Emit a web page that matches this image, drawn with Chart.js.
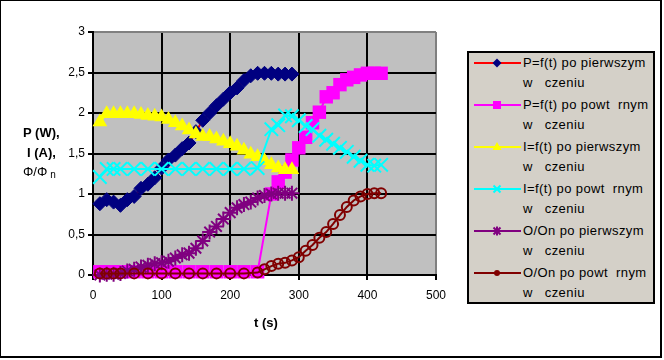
<!DOCTYPE html>
<html lang="pl">
<head>
<meta charset="UTF-8">
<title>Wykres P, I, O/On</title>
<script src="https://cdn.jsdelivr.net/npm/chart.js"></script>
<style>
  body { margin: 0; background: #fff; font-family: "Liberation Sans", Arial, sans-serif; }
  #ramka { position: absolute; left: 0; top: 0; width: 659px; height: 355px; border: 1px solid #000; border-right-width: 2px; border-bottom-width: 2px; }
  #wykres { position: absolute; left: 0; top: 0; width: 454px; height: 340px; }
  .opis { position: absolute; font-size: 13px; line-height: 16px; color: #000; white-space: nowrap; }
  .gruby { font-weight: bold; }
  #legenda { position: absolute; left: 467px; top: 51px; width: 184px; height: 249px; border: 2px solid #000; background: #d4d0c8; }
  .wpis { position: relative; height: 42px; }
  .wpis svg { position: absolute; left: 5px; top: 0; }
  .wpis div { position: absolute; left: 54px; top: 0; font-size: 13px; line-height: 20px; letter-spacing: 0.4px; white-space: nowrap; }
</style>
</head>
<body>
<div id="ramka"></div>
<div id="wykres"><canvas id="myChart"></canvas></div>

<div class="opis gruby" style="left:23px; top:125px">P (W),</div>
<div class="opis gruby" style="left:27px; top:145px">I (A),</div>
<div class="opis" style="left:23px; top:164px">&Phi;/&Phi;<span style="font-size:10px; position:relative; top:2px"> n</span></div>
<div class="opis gruby" style="left:236px; top:315px; width:60px; text-align:center">t (s)</div>

<div id="legenda"></div>

<script>
  // czas i wartosci - po pierwszym wlaczeniu
  const tPierw = [10, 20, 30, 40, 50, 60, 70, 80, 90, 100, 110, 120, 130, 140, 150,
    160, 170, 180, 190, 200, 210, 220, 230, 240, 250, 260, 270, 280, 290];
  const pPierw = [0.88, 0.93, 0.90, 0.86, 0.93, 0.97, 1.07, 1.12, 1.20, 1.32, 1.42, 1.48, 1.56, 1.63, 1.77,
    1.91, 2.00, 2.09, 2.17, 2.25, 2.31, 2.40, 2.46, 2.49, 2.49, 2.49, 2.48, 2.48, 2.48];
  const iPierw = [1.89, 1.99, 1.99, 1.99, 1.99, 1.99, 1.98, 1.97, 1.96, 1.95, 1.92, 1.88, 1.84, 1.79, 1.74,
    1.71, 1.71, 1.68, 1.65, 1.62, 1.59, 1.54, 1.49, 1.46, 1.41, 1.36, 1.32, 1.30, 1.30];
  const oPierw = [0.00, 0.01, 0.01, 0.02, 0.05, 0.07, 0.10, 0.12, 0.14, 0.15, 0.17, 0.21, 0.25, 0.27, 0.33,
    0.42, 0.53, 0.60, 0.69, 0.77, 0.83, 0.87, 0.90, 0.95, 0.98, 1.00, 1.01, 1.01, 1.01];

  // czas i wartosci - po powtornym wlaczeniu
  const tPowt = [10, 20, 30, 40, 60, 80, 100, 120, 140, 160, 180, 200, 220, 240,
    250, 260, 270, 280, 290, 300, 310, 320, 330, 340, 350, 360, 370, 380, 390, 400, 410, 420];
  const pPowt = [0.04, 0.04, 0.04, 0.04, 0.04, 0.04, 0.04, 0.04, 0.04, 0.04, 0.04, 0.04, 0.04, 0.04,
    null, 1.00, 1.15, 1.27, 1.42, 1.57, 1.70, 1.88, 2.01, 2.20, 2.25, 2.35, 2.41, 2.44, 2.47, 2.49, 2.49, 2.49];
  const iPowt = [1.21, 1.31, 1.31, 1.31, 1.31, 1.31, 1.31, 1.31, 1.31, 1.31, 1.31, 1.31, 1.31, 1.32,
    null, 1.80, 1.85, 1.97, 1.96, 1.91, 1.84, 1.80, 1.72, 1.67, 1.62, 1.57, 1.52, 1.46, 1.41, 1.36, 1.35, 1.36];
  const oPowt = [0.02, 0.02, 0.02, 0.02, 0.02, 0.02, 0.02, 0.02, 0.02, 0.02, 0.02, 0.02, 0.02, 0.03,
    0.07, 0.11, 0.14, 0.15, 0.18, 0.22, 0.30, 0.37, 0.46, 0.53, 0.63, 0.74, 0.84, 0.92, 0.97, 1.00, 1.01, 1.01];

  const nazwy = [
    ['P=f(t) po pierwszym', 'w\u00a0\u00a0\u00a0czeniu'],
    ['P=f(t) po powt\u00a0\u00a0rnym', 'w\u00a0\u00a0\u00a0czeniu'],
    ['I=f(t) po pierwszym', 'w\u00a0\u00a0\u00a0czeniu'],
    ['I=f(t) po powt\u00a0\u00a0rnym', 'w\u00a0\u00a0\u00a0czeniu'],
    ['O/On po pierwszym', 'w\u00a0\u00a0\u00a0czeniu'],
    ['O/On po powt\u00a0\u00a0rnym', 'w\u00a0\u00a0\u00a0czeniu']
  ];

  const xTicki = [0, 100, 200, 300, 400, 500];
  const yTicki = [0, 0.5, 1, 1.5, 2, 2.5, 3];

  function punkty(t, v) {
    return t.map((x, i) => ({ x: x, y: v[i] }));
  }

  const tloWykresu = {
    id: 'tlo',
    beforeDraw(chart) {
      const a = chart.chartArea;
      const c = chart.ctx;
      c.save();
      c.fillStyle = '#c0c0c0';
      c.fillRect(a.left, a.top, a.right - a.left, a.bottom - a.top);
      c.restore();
    }
  };

  const ctx = document.getElementById('myChart');

  new Chart(ctx, {
    type: 'line',
    data: {
      datasets: [
        { label: nazwy[0].join(' '), data: punkty(tPierw, pPierw), borderColor: '#ff0000', borderWidth: 2,
          pointStyle: 'rectRot', pointRadius: 7, pointBackgroundColor: '#000080', pointBorderColor: '#000080', pointBorderWidth: 1, order: 6 },
        { label: nazwy[1].join(' '), data: punkty(tPowt, pPowt), borderColor: '#ff00ff', borderWidth: 2,
          pointStyle: 'rect', pointRadius: 9.5, pointBackgroundColor: '#ff00ff', pointBorderColor: '#ff00ff', pointBorderWidth: 0, order: 5 },
        { label: nazwy[2].join(' '), data: punkty(tPierw, iPierw), borderColor: '#ffff00', borderWidth: 2,
          pointStyle: 'triangle', pointRadius: 8.5, pointBackgroundColor: '#ffff00', pointBorderColor: '#ffff00', pointBorderWidth: 0, order: 4 },
        { label: nazwy[3].join(' '), data: punkty(tPowt, iPowt), borderColor: '#00ffff', borderWidth: 2,
          pointStyle: 'crossRot', pointRadius: 9.5, pointBackgroundColor: '#00ffff', pointBorderColor: '#00ffff', pointBorderWidth: 2, order: 3 },
        { label: nazwy[4].join(' '), data: punkty(tPierw, oPierw), borderColor: '#800080', borderWidth: 2,
          pointStyle: 'star', pointRadius: 7.5, pointBackgroundColor: '#800080', pointBorderColor: '#800080', pointBorderWidth: 2, order: 2 },
        { label: nazwy[5].join(' '), data: punkty(tPowt, oPowt), borderColor: '#800000', borderWidth: 2,
          pointStyle: 'circle', pointRadius: 5, pointBackgroundColor: 'rgba(0,0,0,0)', pointBorderColor: '#800000', pointBorderWidth: 2, order: 1 }
      ].map(d => Object.assign(d, { tension: 0, spanGaps: true, clip: false, fill: false }))
    },
    options: {
      responsive: true,
      maintainAspectRatio: false,
      animation: false,
      layout: { padding: { top: 32, right: 14, left: 0, bottom: 0 } },
      plugins: { legend: { display: false }, tooltip: { enabled: false } },
      scales: {
        x: {
          type: 'linear', min: xTicki[0], max: xTicki[xTicki.length - 1],
          afterBuildTicks: s => { s.ticks = xTicki.map(v => ({ value: v })); },
          afterFit: s => { s.height = 65; },
          ticks: { color: '#000', font: { family: '"Liberation Sans", Arial', size: 12 }, padding: 8, maxRotation: 0 },
          grid: { color: c => (c.tick && c.tick.value === 500 ? '#808080' : '#000'), lineWidth: 2, tickColor: '#000', tickLength: 5 },
          border: { color: '#000', width: 2 }
        },
        y: {
          min: yTicki[0], max: yTicki[yTicki.length - 1],
          afterBuildTicks: s => { s.ticks = yTicki.map(v => ({ value: v })); },
          afterFit: s => { s.width = 93; },
          ticks: { color: '#000', font: { family: '"Liberation Sans", Arial', size: 12 }, padding: 3,
            callback: v => String(v).replace('.', ',') },
          grid: { color: c => (c.tick && c.tick.value === 3 ? '#808080' : '#000'), lineWidth: 2, tickColor: '#000', tickLength: 5 },
          border: { color: '#000', width: 2 }
        }
      }
    },
    plugins: [tloWykresu]
  });

  // legenda - linia z markerem jak w Excelu
  const kolory = ['#ff0000', '#ff00ff', '#ffff00', '#00ffff', '#800080', '#800000'];
  const markery = [
    '<polygon points="23,5.5 27.5,10 23,14.5 18.5,10" fill="#000080"/>',
    '<rect x="19" y="6" width="8" height="8" fill="#ff00ff"/>',
    '<polygon points="23,5 27.5,13 18.5,13" fill="#ffff00"/>',
    '<path d="M19.5 6.5 L26.5 13.5 M19.5 13.5 L26.5 6.5" stroke="#00ffff" stroke-width="2"/>',
    '<path d="M19.5 6.5 L26.5 13.5 M19.5 13.5 L26.5 6.5 M23 5.5 L23 14.5" stroke="#800080" stroke-width="2"/>',
    '<circle cx="23" cy="10" r="3" fill="#800000"/>'
  ];

  let html = '';
  for (let i = 0; i < nazwy.length; i++) {
    html += '<div class="wpis"><svg width="47" height="20">' +
      '<line x1="0" y1="10" x2="47" y2="10" stroke="' + kolory[i] + '" stroke-width="2"/>' +
      markery[i] + '</svg><div>' + nazwy[i][0] + '<br>' + nazwy[i][1] + '</div></div>';
  }
  document.getElementById('legenda').innerHTML = html;
</script>
</body>
</html>
